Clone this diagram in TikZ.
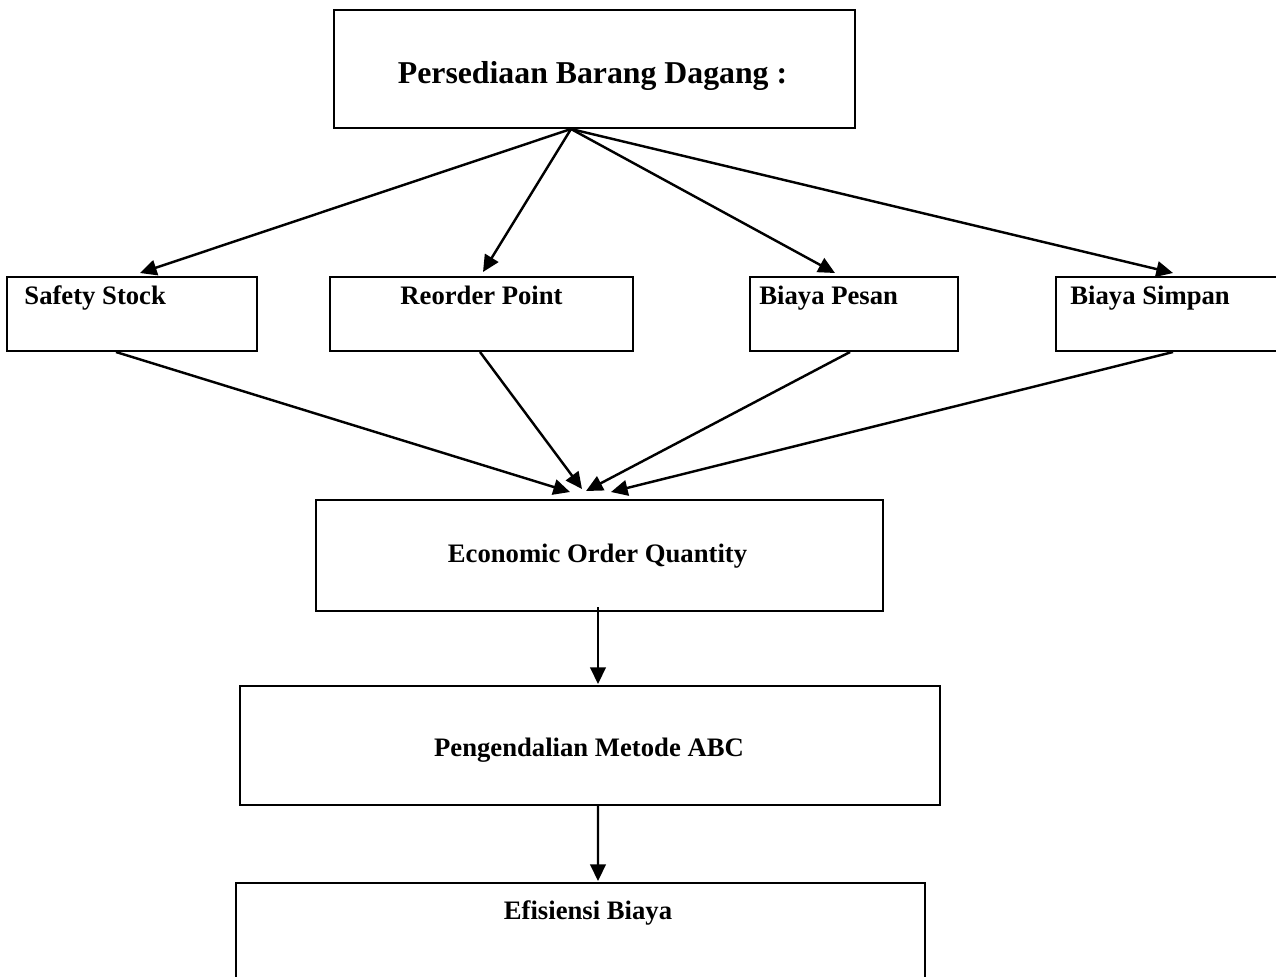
\documentclass[tikz,border=0pt]{standalone}
\usepackage{fontspec}
\setmainfont{Liberation Serif}
\usetikzlibrary{arrows.meta,calc}

\tikzset{
    sz/.style 2 args={minimum width=#1*0.45pt, minimum height=#2*0.45pt}
}

\begin{document}
\begin{tikzpicture}[
        x=0.45pt, y=-0.45pt,
        box/.style={draw, line width=0.9pt, inner sep=0pt},
        lbl/.style={font=\bfseries\fontsize{12}{14}\selectfont, inner sep=0pt},
        arrow/.style={-{Triangle[length=7.5pt,width=7pt]}, line width=1.1pt}
    ]
        \useasboundingbox (0,0) rectangle (1276,976);
        \clip (0,0) rectangle (1276,976);

        % Top
        \node[box, sz={521}{118}] (top) at (594.5,69) {};
        \node[lbl, font=\bfseries\fontsize{14.3}{16}\selectfont, anchor=base] (topT) at (592.5,83) {Persediaan Barang Dagang :};
        \coordinate (apex) at ($(top.south)+(-23.5,0)$);

        % Middle row
        \node[box, sz={250}{74}] (ss) at (132,314) {};
        \node[box, sz={303}{74}] (rp) at (481.5,314) {};
        \node[box, sz={208}{74}] (bp) at (854,314) {};
        \node[box, sz={234}{74}] (bs) at (1173,314) {};

        \node[lbl, anchor=base west] (ssT) at (24,304) {Safety Stock};
        \node[lbl, anchor=base] (rpT) at (481.5,304) {Reorder Point};
        \node[lbl, anchor=base west] (bpT) at (759,304) {Biaya Pesan};
        \node[lbl, anchor=base west] (bsT) at (1070,304) {Biaya Simpan};

        \draw[arrow] (apex) -- ($(ss.north)+(8,-3)$);
        \draw[arrow] (apex) -- ($(rp.north)+(1.5,-4)$);
        \draw[arrow] (apex) -- ($(bp.north)+(-19,-3)$);
        \draw[arrow] (apex) -- ($(bs.north)+(0,-3)$);

        % Lower boxes
        \node[box, sz={567}{111}] (eoq) at (599.5,555.5) {};
        \node[lbl, anchor=base] (eoqT) at (597.5,562) {Economic Order Quantity};
        \node[box, sz={700}{119}] (peng) at (590,745.5) {};
        \node[lbl, anchor=base] (pengT) at (589,756) {Pengendalian Metode ABC};
        \node[box, sz={689}{130}] (eff) at (580.5,948) {};
        \node[lbl, anchor=base] (effT) at (588,919) {Efisiensi Biaya};

        \draw[arrow] ($(ss.south)+(-16,0)$) -- ($(eoq.north)+(-29.5,-7)$);
        \draw[arrow] ($(rp.south)+(-1.5,0)$) -- ($(eoq.north)+(-17.5,-10)$);
        \draw[arrow] ($(bp.south)+(-4,0)$) -- ($(eoq.north)+(-13.5,-8)$);
        \draw[arrow] (bs.south) -- ($(eoq.north)+(11.5,-7)$);

        \draw[arrow] ($(eoq.south)+(-1.5,-5)$) -- ($(peng.north)+(8,-1)$);
        \draw[arrow] ($(peng.south)+(8,-2)$) -- ($(eff.north)+(17.5,-1)$);
    \end{tikzpicture}
\end{document}
